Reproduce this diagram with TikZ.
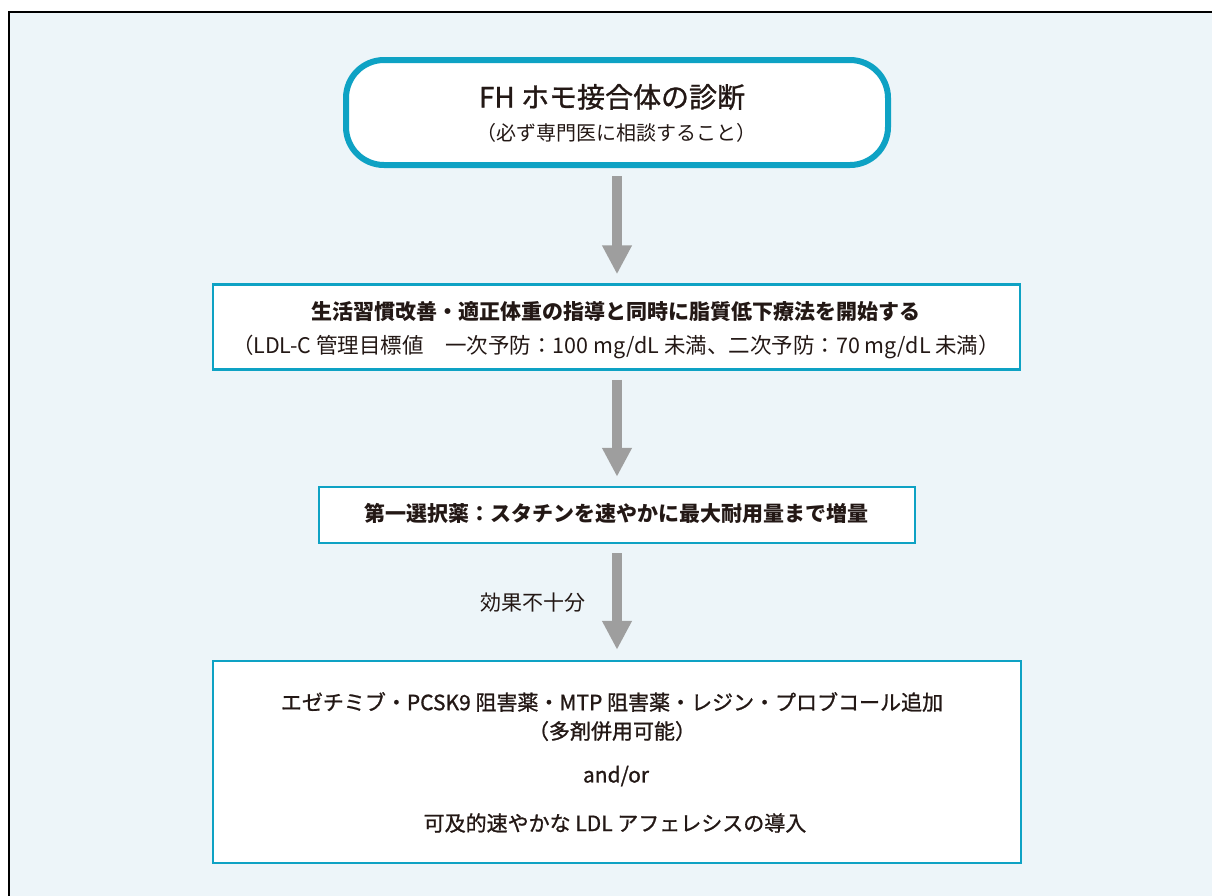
\documentclass[tikz,border=0pt]{standalone}
\usepackage{fontspec}
\setmainfont{Noto Sans CJK JP}
\newfontfamily\jpmed[FakeBold=1]{Noto Sans CJK JP}
\usetikzlibrary{arrows.meta}
\definecolor{bgblue}{HTML}{EDF5F9}
\definecolor{teal}{HTML}{0EA2C4}
\definecolor{arrgray}{HTML}{9E9E9E}
\definecolor{ink}{HTML}{231815}
\tikzset{
  frame/.style={draw=black, line width=1.5pt, fill=bgblue},
  topbox/.style={draw=teal, line width=6pt, fill=white, rounded corners=38pt, minimum width=542pt, minimum height=105pt, inner sep=0pt},
  stepbox/.style={draw=teal, line width=2.5pt, fill=white, inner sep=0pt},
  txt/.style={text=ink, inner sep=0pt, anchor=center},
  flow/.style={draw=arrgray, line width=10pt, -{Triangle[width=28pt,length=29pt]}},
}
\begin{document}
\begin{tikzpicture}[x=1pt,y=-1pt]
\useasboundingbox (0,0) rectangle (1212,895);
\path[frame] (9,12) rectangle (1230,910);
% boxes
\node[topbox] (diag) at (617,112.5) {};
\node[stepbox, minimum width=807pt, minimum height=85pt] (life) at (616.5,327) {};
\node[stepbox, minimum width=596pt, minimum height=56pt] (statin) at (617,515) {};
\node[stepbox, minimum width=808pt, minimum height=202pt] (add) at (617,762) {};
% texts
\node[txt, font=\jpmed\fontsize{28}{31}\selectfont] (t1) at (612,97) {FH ホモ接合体の診断};
\node[txt, font=\fontsize{20}{23}\selectfont] (t2) at (616,133) {（必ず専門医に相談すること）};
\node[txt, font=\bfseries\fontsize{21}{24}\selectfont] (t3) at (616,312) {生活習慣改善・適正体重の指導と同時に脂質低下療法を開始する};
\node[txt, font=\fontsize{21.5}{24}\selectfont] (t4) at (616,347) {（LDL-C 管理目標値　一次予防：100 mg/dL 未満、二次予防：70 mg/dL 未満）};
\node[txt, font=\bfseries\fontsize{21}{24}\selectfont] (t5) at (616,513) {第一選択薬：スタチンを速やかに最大耐用量まで増量};
\node[txt, font=\fontsize{21}{24}\selectfont] (lab) at (533,603) {効果不十分};
\node[txt, font=\jpmed\fontsize{21}{24}\selectfont] (t6) at (612,702) {エゼチミブ・PCSK9 阻害薬・MTP 阻害薬・レジン・プロブコール追加};
\node[txt, font=\jpmed\fontsize{21}{24}\selectfont] (t7) at (612,731) {（多剤併用可能）};
\node[txt, font=\jpmed\fontsize{21}{24}\selectfont] (t8) at (616,776) {and/or};
\node[txt, font=\jpmed\fontsize{21}{24}\selectfont] (t9) at (615,823) {可及的速やかな LDL アフェレシスの導入};
% arrows
\draw[flow, shorten <=8pt, shorten >=9pt] (diag.south -| 617,0) -- (life.north -| 617,0);
\draw[flow, shorten <=9pt, shorten >=9pt] (life.south -| 617,0) -- (statin.north -| 617,0);
\draw[flow, shorten <=9pt, shorten >=10pt] (statin.south -| 617,0) -- (add.north -| 617,0);
\end{tikzpicture}
\end{document}
